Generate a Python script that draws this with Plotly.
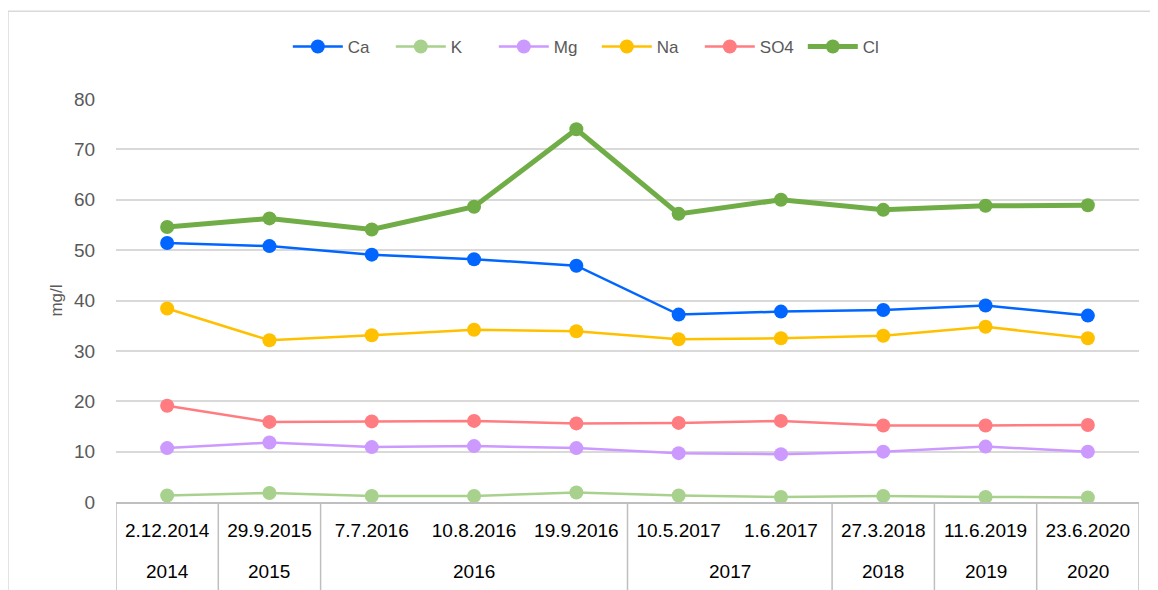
import plotly.graph_objects as go

years = ["2014", "2015", "2016", "2016", "2016", "2017", "2017", "2018", "2019", "2020"]
dates = ["2.12.2014", "29.9.2015", "7.7.2016", "10.8.2016", "19.9.2016",
         "10.5.2017", "1.6.2017", "27.3.2018", "11.6.2019", "23.6.2020"]

ca = [51.4, 50.8, 49.1, 48.2, 46.9, 37.2, 37.8, 38.1, 39.0, 37.0]
k = [1.3, 1.8, 1.2, 1.2, 1.9, 1.3, 1.0, 1.2, 1.0, 0.9]
mg = [10.7, 11.8, 10.9, 11.1, 10.7, 9.7, 9.5, 10.0, 11.0, 10.0]
na = [38.4, 32.1, 33.1, 34.2, 33.9, 32.3, 32.5, 33.0, 34.8, 32.5]
so4 = [19.1, 15.9, 16.0, 16.1, 15.6, 15.7, 16.1, 15.2, 15.2, 15.3]
cl = [54.6, 56.3, 54.1, 58.6, 74.0, 57.2, 60.0, 58.0, 58.8, 58.9]

series = [
    ("Ca", ca, "#0066FF", 2.5),
    ("K", k, "#A9D18E", 2.5),
    ("Mg", mg, "#CC99FF", 2.5),
    ("Na", na, "#FFC000", 2.5),
    ("SO4", so4, "#FF7C80", 2.5),
    ("Cl", cl, "#70AD47", 5),
]

font_family = "Liberation Sans, Arial, sans-serif"

fig = go.Figure()
for name, vals, colour, width in series:
    fig.add_trace(go.Scatter(
        x=dates, y=vals, name=name,
        mode="lines+markers",
        line=dict(color=colour, width=width),
        marker=dict(color=colour, size=14),
    ))

fig.update_layout(
    width=1158, height=590,
    paper_bgcolor="white", plot_bgcolor="white",
    font=dict(family=font_family, size=17, color="#595959"),
    margin=dict(l=108, r=27, t=91, b=96),
    showlegend=True,
    legend=dict(orientation="h", x=0.47, xanchor="center", y=1.129, yanchor="middle",
                font=dict(size=17, color="#595959"), itemwidth=50, entrywidth=38),
)
fig.update_yaxes(
    range=[0, 80], dtick=10, showgrid=True, gridcolor="#D9D9D9", gridwidth=1.5,
    zeroline=False, title=dict(text="mg/l", font=dict(size=17), standoff=7),
    ticks="outside", ticklen=16, tickcolor="rgba(0,0,0,0)",
    tickfont=dict(size=19), automargin=False,
)
fig.update_xaxes(
    type="category", range=[-0.5, len(dates) - 0.5],
    showline=True, linecolor="#BFBFBF", linewidth=1.5, showgrid=False,
    ticks="outside", ticklen=10, tickcolor="rgba(0,0,0,0)",
    tickfont=dict(size=19, color="#000000"), automargin=False,
)

# year row and group dividers below the axis
groups = []
for i, yr in enumerate(years):
    if groups and groups[-1][0] == yr:
        groups[-1][2] = i
    else:
        groups.append([yr, i, i])

for yr, first, last in groups:
    fig.add_annotation(x=(first + last) / 2, y=0, xref="x", yref="paper",
                       text=yr, showarrow=False, yanchor="middle", yshift=-69,
                       font=dict(size=19, color="#000000"))
    fig.add_shape(type="line", xref="x", yref="paper", x0=first - 0.5, x1=first - 0.5,
                  y0=0, y1=-0.3, line=dict(color="#BFBFBF", width=1.5))
fig.add_shape(type="line", xref="x", yref="paper", x0=len(years) - 0.5, x1=len(years) - 0.5,
              y0=0, y1=-0.3, line=dict(color="#BFBFBF", width=1.5))

# chart area border
fig.add_shape(type="rect", xref="paper", yref="paper", x0=-0.1056, x1=1.1, y0=-0.3, y1=1.218,
              line=dict(color="#D9D9D9", width=1.5))

fig.write_html("out.html")
